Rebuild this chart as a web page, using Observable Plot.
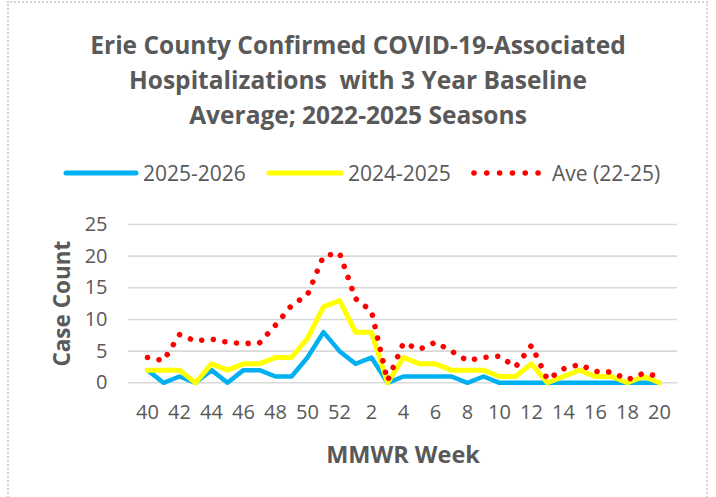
<!DOCTYPE html>
<html>
<head>
<meta charset="utf-8">
<script src="https://cdn.jsdelivr.net/npm/d3@7"></script>
<script src="https://cdn.jsdelivr.net/npm/@observablehq/plot@0.6"></script>
<style>
  html, body { margin: 0; padding: 0; background: #fff; }
  #wrap { position: relative; width: 716px; height: 497px; overflow: hidden; background: #fff; font-family: "Open Sans", sans-serif; color: #595959; }
  #border { position: absolute; left: 7px; top: 1px; width: 701px; height: 600px; border: 2px dotted #d4d4d4; box-sizing: border-box; }
  #title { position: absolute; top: 27px; left: 0; width: 716px; text-align: center; font-weight: bold; font-size: 24.5px; line-height: 35px; white-space: pre; }
  .lg { position: absolute; top: 158px; height: 30px; line-height: 30px; font-size: 21px; white-space: nowrap; }
  .sw { position: absolute; top: 168px; }
  #chart { position: absolute; left: 0; top: 0; }
</style>
</head>
<body>
<div id="wrap">
  <div id="border"></div>
  <div id="title"></div>
  <div id="legend"></div>
  <div id="chart"></div>
</div>
<script>
// MMWR weeks (categories)
const weeks = ["40","41","42","43","44","45","46","47","48","49","50","51","52",
               "1","2","3","4","5","6","7","8","9","10","11","12","13","14","15","16","17","18","19","20"];
// tick labels shown on the x axis
const tickLabels = ["40","42","44","46","48","50","52","2","4","6","8","10","12","14","16","18","20"];
const yTicks = [0, 5, 10, 15, 20, 25];

// series values
const s2526 = [2,0,1,0,2,0,2,2,1,1,4,8,5,3,4,0,1, 1,1,1,0,1,0,0,0,0,0,0,0,0,0,0,0];
const s2425 = [2,2,2,0,3,2,3,3,4,4,7,12,13,8,8,0,4, 3,3,2,2,2,1,1,3,0,1,2,1,1,0,1,0];
const ave   = [4.0,3.5,7.6,6.6,6.9,6.4,6.2,6.3,9.1,12.2,13.9,20.0,20.5,13.3,11.3,0.3,6.3,
               5.3,6.4,5.0,3.5,4.0,4.2,2.5,5.9,0.5,2.2,2.9,1.8,1.7,0.5,1.5,1.0];

const seriesNames = ["2025-2026", "2024-2025", "Ave (22-25)"];
const seriesColors = ["#00b0f0", "#ffff00", "#ff0000"];

const titleText = "Erie County Confirmed COVID-19-Associated\nHospitalizations  with 3 Year Baseline\nAverage; 2022-2025 Seasons";
const yLabel = "Case Count";
const xLabel = "MMWR Week";

document.getElementById("title").textContent = titleText;

const rows = weeks.map((w, i) => ({week: w, s2526: s2526[i], s2425: s2425[i], ave: ave[i]}));

const chart = Plot.plot({
  width: 716,
  height: 497,
  marginLeft: 128,
  marginRight: 39,
  marginTop: 224,
  marginBottom: 114.7,
  style: {fontFamily: "Open Sans", fontSize: "20px", color: "#595959", background: "transparent", overflow: "visible"},
  x: {type: "point", domain: weeks, padding: 0.5},
  y: {domain: [0, 25]},
  marks: [
    Plot.gridY(yTicks, {stroke: "#d9d9d9", strokeOpacity: 1, strokeWidth: 1.6}),
    Plot.axisY(yTicks, {tickSize: 0, tickPadding: 21, label: null, fill: "#595959"}),
    Plot.axisX(tickLabels, {tickSize: 0, tickPadding: 22, label: null, fill: "#595959"}),
    Plot.line(rows, {x: "week", y: "s2526", stroke: seriesColors[0], strokeWidth: 4.5, strokeLinejoin: "round", strokeLinecap: "round"}),
    Plot.line(rows, {x: "week", y: "s2425", stroke: seriesColors[1], strokeWidth: 5, strokeLinejoin: "round", strokeLinecap: "round"}),
    Plot.line(rows, {x: "week", y: "ave", stroke: seriesColors[2], strokeWidth: 5.6, strokeLinecap: "round", strokeDasharray: "0.01 11.7"}),
    Plot.text([yLabel], {frameAnchor: "left", dx: -66, rotate: -90, textAnchor: "middle", lineAnchor: "middle", text: d => d, fontWeight: "bold", fontSize: 22.5, fill: "#595959"}),
    Plot.text([xLabel], {frameAnchor: "bottom", dy: 72.7, lineAnchor: "middle", text: d => d, fontWeight: "bold", fontSize: 23.5, fill: "#595959"})
  ]
});
document.getElementById("chart").appendChild(chart);

// legend
const legend = document.getElementById("legend");
const swatchLeft = [66, 269, 474];
const swatchWidth = [70, 72, 64.5];
const textLeft = [143, 348, 552];
seriesNames.forEach((name, i) => {
  const ns = "http://www.w3.org/2000/svg";
  const svg = document.createElementNS(ns, "svg");
  svg.setAttribute("class", "sw");
  svg.setAttribute("width", swatchWidth[i] + 8);
  svg.setAttribute("height", 10);
  svg.style.left = (swatchLeft[i] - 4) + "px";
  const ln = document.createElementNS(ns, "line");
  ln.setAttribute("x1", 4); ln.setAttribute("x2", 4 + swatchWidth[i]);
  ln.setAttribute("y1", 5); ln.setAttribute("y2", 5);
  ln.setAttribute("stroke", seriesColors[i]);
  ln.setAttribute("stroke-linecap", "round");
  if (i === 2) {
    ln.setAttribute("stroke-width", 5.6);
    ln.setAttribute("stroke-dasharray", "0.01 12.8");
  } else {
    ln.setAttribute("stroke-width", 5);
  }
  svg.appendChild(ln);
  legend.appendChild(svg);
  const t = document.createElement("div");
  t.className = "lg";
  t.style.left = textLeft[i] + "px";
  t.textContent = name;
  legend.appendChild(t);
});
</script>
</body>
</html>
